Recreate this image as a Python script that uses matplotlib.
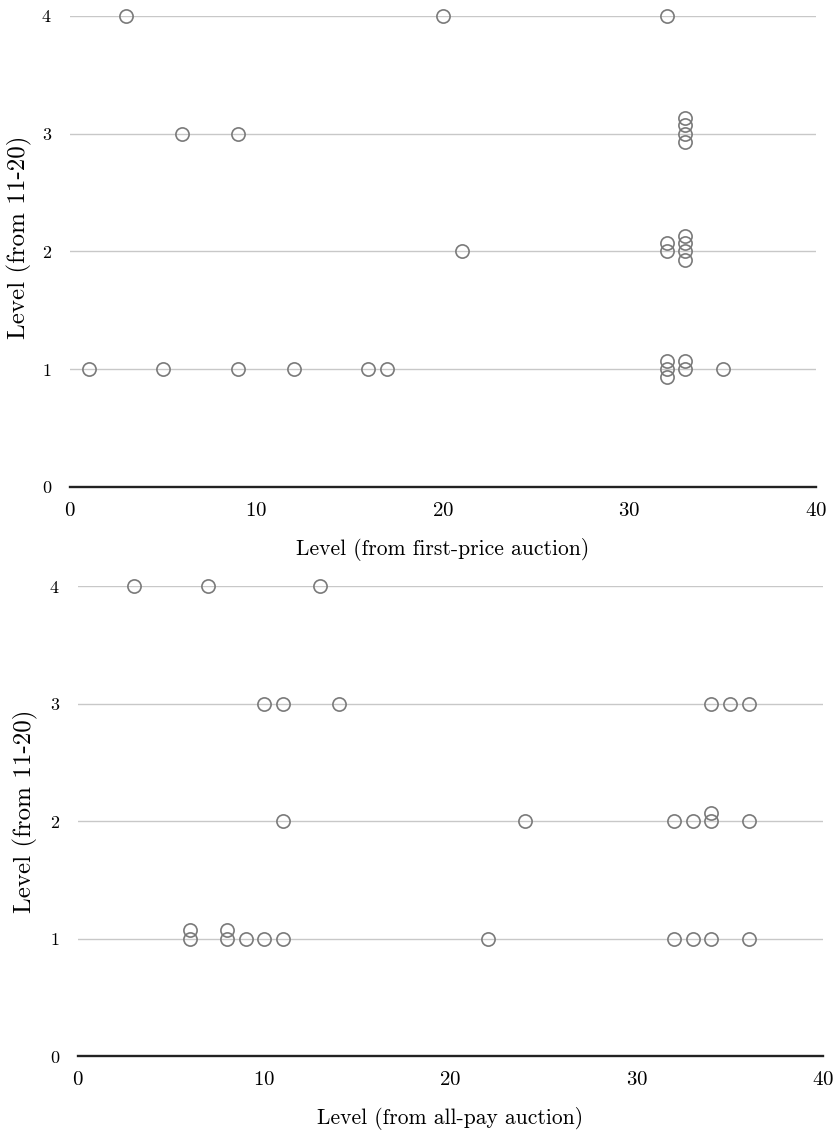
import numpy as np
import matplotlib
matplotlib.use("Agg")
import matplotlib.pyplot as plt

plt.rcParams['font.family'] = ['cmr10', 'DejaVu Serif']
plt.rcParams['axes.formatter.use_mathtext'] = True
plt.rcParams['axes.unicode_minus'] = False

# first-price auction: level (x) vs level from 11-20 (y); y already offset for stacked duplicates
fp_x = [3, 20, 32,
        6, 9, 33, 33, 33, 33,
        21, 32, 32, 33, 33, 33, 33,
        1, 5, 9, 12, 16, 17, 32, 32, 32, 33, 33, 35]
fp_y = [4, 4, 4,
        3, 3, 3.13, 3.07, 3.0, 2.93,
        2, 2.07, 2.0, 2.13, 2.07, 2.0, 1.93,
        1, 1, 1, 1, 1, 1, 1.07, 1.0, 0.93, 1.07, 1.0, 1]

# all-pay auction
ap_x = [3, 7, 13,
        10, 11, 14, 34, 35, 36,
        11, 24, 32, 33, 34, 34, 36,
        6, 6, 8, 8, 9, 10, 11, 22, 32, 33, 34, 36]
ap_y = [4, 4, 4,
        3, 3, 3, 3, 3, 3,
        2, 2, 2, 2, 2.07, 2.0, 2,
        1.07, 1.0, 1.07, 1.0, 1, 1, 1, 1, 1, 1, 1, 1]

y_ticks = [0, 1, 2, 3, 4]
x_ticks = [0, 10, 20, 30, 40]

fig = plt.figure(figsize=(8.38, 11.35), dpi=100)
ax1 = fig.add_axes([0.0835, 0.571, 0.890, 0.415])
ax2 = fig.add_axes([0.0931, 0.0696, 0.889, 0.414])


def style_axis(ax, xs, ys, xlabel):
    for lvl in [1, 2, 3, 4]:
        ax.axhline(lvl, color='#c8c8c8', lw=1.0, zorder=1)
    ax.plot(xs, ys, 'o', mfc='none', mec='#7a7a7a', mew=1.2, ms=9.5,
            clip_on=False, zorder=3)
    ax.set_xlim(0, 40)
    ax.set_ylim(0, 4)
    ax.set_xticks(x_ticks)
    ax.set_yticks(y_ticks)
    ax.tick_params(axis='both', length=0)
    ax.tick_params(axis='x', labelsize=15, pad=11)
    ax.tick_params(axis='y', labelsize=13, pad=13)
    for s in ['top', 'right', 'left']:
        ax.spines[s].set_visible(False)
    ax.spines['bottom'].set_color('#222222')
    ax.spines['bottom'].set_linewidth(1.7)
    ax.set_xlabel(xlabel, fontsize=15.5, labelpad=13)
    ax.set_ylabel('Level (from 11-20)', fontsize=18, labelpad=8)


style_axis(ax1, fp_x, fp_y, 'Level (from first-price auction)')
style_axis(ax2, ap_x, ap_y, 'Level (from all-pay auction)')
ax1.yaxis.set_label_coords(-0.051, 0.53)
ax2.yaxis.set_label_coords(-0.054, 0.52)

fig.savefig('out.png', dpi=100)
